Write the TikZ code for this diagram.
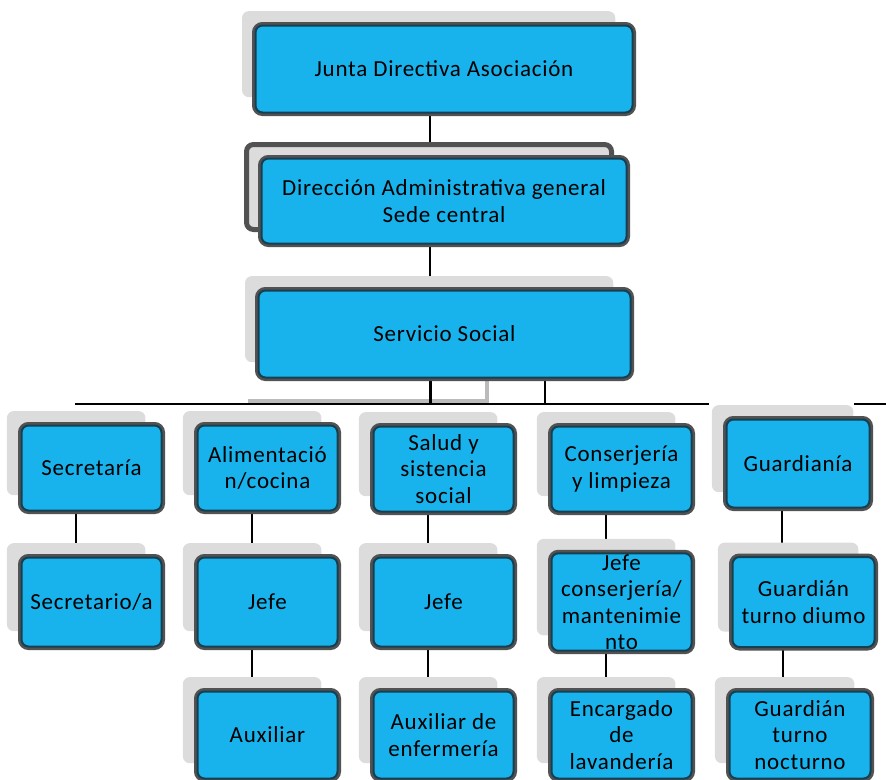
\documentclass[tikz,border=0pt]{standalone}
\usepackage{fontspec}
\setmainfont{Carlito}[LetterSpace=3.3]
\usetikzlibrary{shadows,backgrounds}

\definecolor{boxblue}{HTML}{18B3EC}
\definecolor{boxedge}{HTML}{525252}
\definecolor{boxinner}{HTML}{173F52}
\definecolor{shadowgray}{HTML}{DCDCDC}

\tikzset{
	boxbody/.style={preaction={draw=boxedge, line width=7pt}, rectangle, rounded corners=7pt, fill=boxblue, draw=boxinner, line width=2pt, align=center, inner sep=1pt, font=\fontsize{23}{26.5}\selectfont},
	orgbox/.style={general shadow={fill=shadowgray, shadow xshift=-15.5pt, shadow yshift=15pt, shadow scale=0.99}, boxbody},
	framedbox/.style={general shadow={fill=shadowgray, draw=boxedge, line width=5pt, shadow xshift=-15pt, shadow yshift=14pt}, boxbody},
	rowbox/.style={orgbox, minimum width=140pt, minimum height=#1},
	link/.style={black, line width=1.5pt}
}

\begin{document}
\begin{tikzpicture}[x=1pt, y=1pt]
\useasboundingbox (0,0) rectangle (886,-779);

% top of the chart
\node at (444,-69)[orgbox, minimum width=377pt, minimum height=87pt] (junta) {Junta Directiva Asociación};
\node at (444,-201)[framedbox, minimum width=365pt, minimum height=85pt] (direccion) {Dirección Administrativa general\\Sede central};
\node at (444.5,-334)[orgbox, minimum width=372pt, minimum height=87pt] (servicio) {Servicio Social};

% first row
\node at (91.5,-468)[rowbox=85pt] (secretaria) {Secretaría};
\node at (267.5,-468)[rowbox=85pt] (alimentacion) {Alimentació\\n/cocina};
\node at (443.5,-469)[rowbox=85pt] (salud) {Salud y\\sistencia\\social};
\node at (621.5,-469)[rowbox=85pt] (conserjeria) {Conserjería\\y limpieza};
\node at (798,-463.5)[rowbox=88pt, minimum width=143pt] (guardiania) {Guardianía};

% second row
\node at (91.5,-602)[rowbox=89pt] (secretario) {Secretario/a};
\node at (267.5,-602)[rowbox=89pt] (jefecocina) {Jefe};
\node at (443.5,-602)[rowbox=89pt] (jefesalud) {Jefe};
\node at (621.5,-602)[rowbox=89pt] (jefeconserje) {Jefe\\conserjería/\\mantenimie\\nto};
\node at (803.5,-602)[rowbox=90pt, minimum width=142pt] (guardiandia) {Guardián\\turno diumo};

% third row
\node at (267.5,-735)[rowbox=87pt] (auxiliar) {Auxiliar};
\node at (443.5,-735)[rowbox=87pt] (enfermeria) {Auxiliar de\\enfermería};
\node at (621.5,-735)[rowbox=87pt] (lavanderia) {Encargado\\de\\lavandería};
\node at (800,-735)[rowbox=87pt, minimum width=141pt] (guardiannoche) {Guardián\\turno\\nocturno};

\coordinate (busleft) at (75,-404);
\coordinate (busright) at (709,-404);
\coordinate (busgap) at (854,-404);
\coordinate (busend) at (886,-404);
\coordinate (ghostleft) at (248,-401);

\begin{scope}[on background layer]
	\draw[shadowgray!85!black, line width=3.5pt] (ghostleft) -| ([xshift=42.5pt]servicio.south);
	\draw[link] ([xshift=-14pt]junta.south) -- ([xshift=-14pt]junta.south |- direccion.north);
	\draw[link] ([xshift=-14pt]direccion.south) -- ([xshift=-14pt]direccion.south |- servicio.north);
	\draw[black, line width=3pt] ([xshift=-14.5pt]servicio.south) -- ([xshift=-14.5pt]servicio.south |- busleft);
	\draw[link] ([xshift=100.5pt]servicio.south) -- ([xshift=100.5pt]servicio.south |- busleft);
	\draw[link] (busleft) -- (busright);
	\draw[link] (busgap) -- (busend);
	%\draw[link] (busright) -- (busgap);
	\draw[link] ([xshift=-15.5pt]secretaria.south) -- ([xshift=-15.5pt]secretaria.south |- secretario.north);
	\draw[link] ([xshift=-15.5pt]alimentacion.south) -- ([xshift=-15.5pt]alimentacion.south |- jefecocina.north);
	\draw[link] ([xshift=-15.5pt]jefecocina.south) -- ([xshift=-15.5pt]jefecocina.south |- auxiliar.north);
	\draw[link] ([xshift=-15.5pt]salud.south) -- ([xshift=-15.5pt]salud.south |- jefesalud.north);
	\draw[link] ([xshift=-15.5pt]jefesalud.south) -- ([xshift=-15.5pt]jefesalud.south |- enfermeria.north);
	\draw[link] ([xshift=-15.5pt]conserjeria.south) -- ([xshift=-15.5pt]conserjeria.south |- jefeconserje.north);
	\draw[link] ([xshift=-15.5pt]jefeconserje.south) -- ([xshift=-15.5pt]jefeconserje.south |- lavanderia.north);
	\draw[link] ([xshift=-16pt]guardiania.south) -- ([xshift=-16pt]guardiania.south |- guardiandia.north);
	\draw[link] ([xshift=-20.5pt]guardiandia.south) -- ([xshift=-20.5pt]guardiandia.south |- guardiannoche.north);
\end{scope}
\end{tikzpicture}
\end{document}
